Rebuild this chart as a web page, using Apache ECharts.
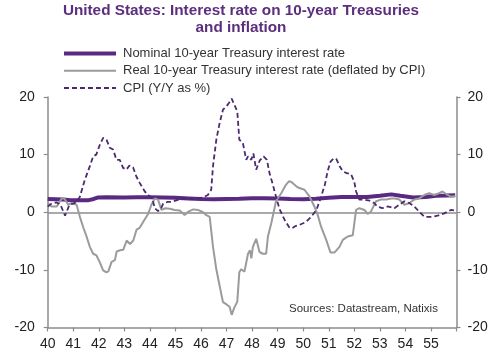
<!DOCTYPE html>
<html>
<head>
<meta charset="utf-8">
<script src="https://cdn.jsdelivr.net/npm/echarts@6/dist/echarts.min.js"></script>
<style>
html,body{margin:0;padding:0;background:#fff;}
#chart{width:500px;height:360px;}
</style>
</head>
<body>
<div id="chart"></div>
<script>
// Series names
var seriesNames = ['Nominal 10-year Treasury interest rate', 'Real 10-year Treasury interest rate (deflated by CPI)', 'CPI (Y/Y as %)'];

// Nominal 10-year rate (year, %)
var nominalX = [1940.0,1940.3,1940.6,1940.9,1941.3,1941.6,1941.8,1941.95,1942.3,1943.0,1943.5,1944.0,1944.5,1945.0,1945.5,1946.0,1946.5,1947.0,1947.5,1948.0,1948.5,1949.0,1949.5,1950.0,1950.5,1951.0,1951.5,1952.0,1952.5,1953.0,1953.45,1953.8,1954.3,1954.8,1955.2,1955.6,1955.95];
var nominalY = [2.3,2.25,2.2,2.1,2.1,2.1,2.3,2.55,2.6,2.55,2.6,2.6,2.55,2.5,2.4,2.3,2.25,2.3,2.35,2.45,2.45,2.4,2.3,2.25,2.35,2.5,2.65,2.65,2.65,2.85,3.1,2.85,2.55,2.65,2.85,2.9,2.95];

// Real 10-year rate (year, %)
var realX = [1940.0,1940.15,1940.35,1940.55,1940.65,1940.8,1940.95,1941.13,1941.26,1941.39,1941.52,1941.65,1941.78,1941.91,1942.04,1942.17,1942.28,1942.37,1942.5,1942.63,1942.7,1942.83,1942.96,1943.09,1943.22,1943.35,1943.48,1943.6,1943.8,1943.93,1944.06,1944.19,1944.32,1944.45,1944.6,1944.78,1944.97,1945.17,1945.36,1945.5,1945.7,1945.88,1946.08,1946.21,1946.34,1946.47,1946.6,1946.73,1946.86,1947.0,1947.12,1947.2,1947.3,1947.42,1947.5,1947.57,1947.7,1947.84,1947.92,1947.97,1948.03,1948.16,1948.29,1948.42,1948.55,1948.62,1948.75,1948.94,1949.14,1949.33,1949.45,1949.55,1949.73,1949.85,1950.05,1950.25,1950.44,1950.57,1950.7,1950.9,1951.07,1951.22,1951.42,1951.55,1951.74,1951.94,1952.07,1952.2,1952.4,1952.52,1952.65,1952.85,1953.04,1953.25,1953.44,1953.6,1953.76,1953.96,1954.15,1954.35,1954.54,1954.74,1954.93,1955.13,1955.32,1955.45,1955.65,1955.78,1955.95];
var realY = [1.6,1.0,1.0,2.4,2.4,1.3,1.6,1.3,-0.8,-2.6,-4.2,-6.0,-7.2,-7.5,-8.7,-10.1,-10.4,-10.3,-8.6,-8.3,-6.8,-6.6,-6.5,-4.9,-5.5,-4.9,-3.0,-2.7,-1.2,-0.3,1.3,2.4,2.2,0.4,0.7,0.6,0.4,0.3,-0.5,0.1,0.5,0.4,0.0,-0.5,-0.8,-6.0,-9.9,-12.8,-15.6,-16.0,-16.4,-17.8,-16.6,-15.5,-10.4,-9.9,-10.3,-7.2,-6.6,-8.0,-6.0,-4.6,-6.9,-7.2,-7.2,-4.2,-1.9,2.0,3.3,4.8,5.4,5.2,4.5,4.2,3.9,2.7,1.0,-0.5,-2.5,-4.8,-7.0,-7.0,-6.0,-4.8,-4.2,-4.0,0.4,0.7,0.4,-0.3,0.1,1.9,2.2,2.2,2.4,2.4,2.2,1.3,1.6,2.2,2.4,3.0,3.3,3.0,3.3,3.6,3.0,2.7,2.8];

// CPI Y/Y (year, %)
var cpiX = [1940.0,1940.15,1940.35,1940.5,1940.68,1940.85,1941.0,1941.13,1941.26,1941.45,1941.65,1941.78,1941.9,1942.04,1942.17,1942.3,1942.43,1942.56,1942.69,1942.82,1942.95,1943.08,1943.2,1943.34,1943.47,1943.6,1943.8,1944.0,1944.1,1944.19,1944.32,1944.45,1944.52,1944.7,1944.84,1945.0,1945.2,1945.36,1945.55,1945.7,1945.88,1946.1,1946.27,1946.4,1946.47,1946.6,1946.73,1946.86,1947.0,1947.1,1947.2,1947.3,1947.42,1947.5,1947.64,1947.77,1947.84,1947.97,1948.05,1948.16,1948.3,1948.45,1948.58,1948.68,1948.8,1948.9,1949.07,1949.27,1949.45,1949.55,1949.7,1949.85,1950.05,1950.2,1950.31,1950.45,1950.55,1950.7,1950.85,1950.95,1951.07,1951.2,1951.3,1951.45,1951.55,1951.7,1951.87,1952.0,1952.07,1952.2,1952.4,1952.6,1952.78,1952.9,1953.1,1953.3,1953.57,1953.76,1953.96,1954.15,1954.35,1954.54,1954.74,1955.0,1955.26,1955.52,1955.78,1955.95];
var cpiY = [1.0,1.5,1.7,1.3,-0.6,1.3,1.5,1.8,2.7,5.6,8.0,9.7,10.0,11.7,12.9,12.6,11.2,10.9,9.1,9.1,7.7,7.4,8.1,7.8,6.2,5.1,3.6,2.7,2.3,0.7,0.2,0.8,1.5,1.8,1.8,2.0,2.3,2.5,2.4,2.3,2.4,2.6,3.0,3.9,8.0,12.6,15.5,17.8,18.4,19.0,19.7,18.7,17.5,12.6,12.0,9.1,9.7,9.1,10.2,7.4,9.0,9.7,9.1,6.8,5.0,3.3,0.6,-1.3,-2.6,-2.8,-2.4,-2.2,-1.8,-1.3,-0.8,0.0,0.8,2.7,4.8,7.0,8.8,9.4,9.2,7.8,7.1,6.8,6.6,5.3,3.6,2.2,2.2,2.0,1.6,1.0,0.7,1.0,0.7,1.3,1.9,1.6,1.0,0.1,-0.8,-0.8,-0.6,-0.2,0.4,0.3];

// Axis ticks
var yTicks = {min: -20, max: 20, step: 10};
var xTicks = {min: 1940, max: 1956, step: 1};
var titleLines = ['United States: Interest rate on 10-year Treasuries', 'and inflation'];
var sourceText = 'Sources: Datastream, Natixis';

function pairs(xs, ys) { return xs.map(function (x, i) { return [x, ys[i]]; }); }

var FONT = 'Liberation Sans, Arial, sans-serif';
var axisGray = '#8c8c8c';
var titleColor = '#5c2e7e';
var colNominal = '#5a2a82', colReal = '#9b9b9b', colCpi = '#4b2a72';

var chart = echarts.init(document.getElementById('chart'), null, {renderer: 'canvas'});
chart.setOption({
  animation: false,
  backgroundColor: '#fff',
  legend: {
    orient: 'vertical', left: 57, top: 42,
    itemWidth: 52, itemHeight: 14, itemGap: 4.3,
    itemStyle: {opacity: 0},
    textStyle: {fontFamily: FONT, fontSize: 13, color: '#333', padding: [0, 0, 0, 2]},
    data: [
      {name: seriesNames[0], lineStyle: {width: 4, color: colNominal}},
      {name: seriesNames[1], lineStyle: {width: 2, color: colReal}},
      {name: seriesNames[2], lineStyle: {width: 2, color: colCpi, type: [5, 3]}}
    ]
  },
  graphic: [
    {type: 'text', x: 241, y: 11,
     style: {text: titleLines[0], font: 'bold 15.3px ' + FONT, fill: titleColor, textAlign: 'center', textVerticalAlign: 'middle'}},
    {type: 'text', x: 241, y: 28,
     style: {text: titleLines[1], font: 'bold 15.3px ' + FONT, fill: titleColor, textAlign: 'center', textVerticalAlign: 'middle'}},
    {type: 'text', left: 289, top: 303,
     style: {text: sourceText, font: '11.5px ' + FONT, fill: '#333'}}
  ],
  grid: {left: 47.7, right: 43.5, top: 97, bottom: 32.5, containLabel: false},
  xAxis: {
    type: 'value', min: xTicks.min, max: xTicks.max, interval: xTicks.step,
    axisLine: {show: true, onZero: false, lineStyle: {color: axisGray, width: 1.5}},
    axisTick: {show: true, length: 4, lineStyle: {color: axisGray, width: 1.2}},
    splitLine: {show: false},
    axisLabel: {
      margin: 10, fontFamily: FONT, fontSize: 14, color: '#222',
      formatter: function (v) { return v < xTicks.max ? String(v).slice(2) : ''; }
    }
  },
  yAxis: [0, 1].map(function (i) {
    return {
      type: 'value', min: yTicks.min, max: yTicks.max, interval: yTicks.step,
      position: i === 0 ? 'left' : 'right',
      axisLine: {show: true, lineStyle: {color: axisGray, width: 1.5}},
      axisTick: {show: true, length: 4, lineStyle: {color: axisGray, width: 1.2}},
      splitLine: {show: false},
      axisLabel: {margin: i === 0 ? 13 : 11, fontFamily: FONT, fontSize: 14, color: '#222'}
    };
  }),
  series: [
    {
      name: seriesNames[0], type: 'line', data: pairs(nominalX, nominalY),
      symbol: 'none', z: 3,
      lineStyle: {color: colNominal, width: 4},
      itemStyle: {color: colNominal},
      markLine: {
        silent: true, symbol: 'none', label: {show: false}, z: 1,
        lineStyle: {color: axisGray, width: 1.5, type: 'solid'},
        data: [{yAxis: 0}]
      }
    },
    {
      name: seriesNames[1], type: 'line', data: pairs(realX, realY),
      symbol: 'none', z: 4,
      lineStyle: {color: colReal, width: 2},
      itemStyle: {color: colReal}
    },
    {
      name: seriesNames[2], type: 'line', data: pairs(cpiX, cpiY),
      symbol: 'none', z: 5,
      lineStyle: {color: colCpi, width: 1.8, type: [5, 3]},
      itemStyle: {color: colCpi}
    }
  ]
});
</script>
</body>
</html>
